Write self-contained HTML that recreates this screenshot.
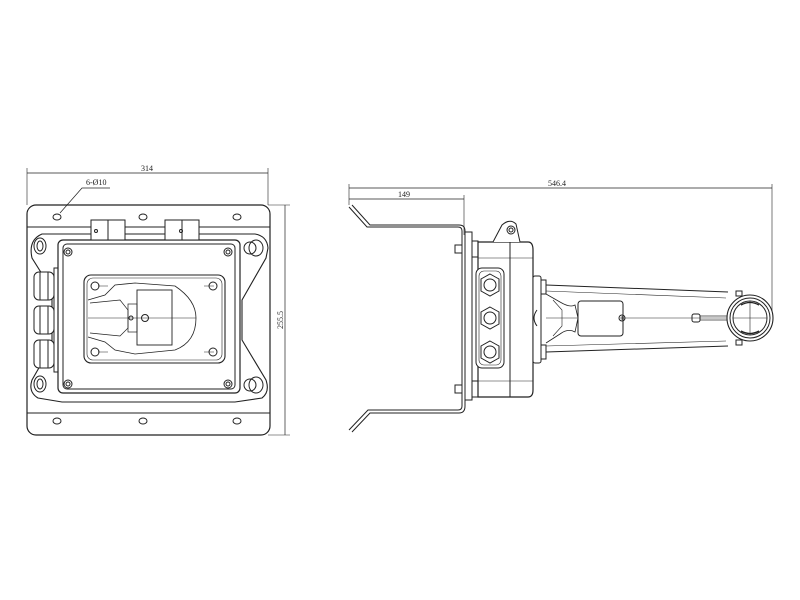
<!DOCTYPE html>
<html><head><meta charset="utf-8"><style>html,body{margin:0;padding:0;background:#fff}svg{display:block}text{font-family:"Liberation Serif",serif;fill:#222}</style></head><body>
<svg width="800" height="600" viewBox="0 0 800 600" xmlns="http://www.w3.org/2000/svg" fill="none" stroke="#222" stroke-width="1">
<!-- LEFT VIEW -->
<g>
<!-- dims -->
<line x1="27" y1="173" x2="268" y2="173" stroke-width="0.7"/>
<line x1="27" y1="168" x2="27" y2="205" stroke-width="0.6"/>
<line x1="268" y1="168" x2="268" y2="205" stroke-width="0.6"/>
<text x="147" y="171" font-size="8" stroke="none" text-anchor="middle">314</text>
<line x1="285" y1="205" x2="285" y2="435" stroke-width="0.7"/>
<line x1="268" y1="205" x2="290" y2="205" stroke-width="0.6"/>
<line x1="268" y1="435" x2="290" y2="435" stroke-width="0.6"/>
<text transform="translate(283,320) rotate(-90)" font-size="8" stroke="none" text-anchor="middle">255.5</text>
<text x="86" y="185" font-size="8" stroke="none">6-Ø10</text>
<polyline points="60,213 82,188 110,188" stroke-width="0.7"/>
<!-- base plate -->
<rect x="27" y="205" width="243" height="230" rx="9" stroke-width="1.2"/>
<line x1="27" y1="227" x2="270" y2="227"/>
<line x1="27" y1="413" x2="270" y2="413"/>
<g stroke-width="1">
<ellipse cx="57" cy="217" rx="4" ry="3"/><ellipse cx="143" cy="217" rx="4" ry="3"/><ellipse cx="237" cy="217" rx="4" ry="3"/>
<ellipse cx="57" cy="421" rx="4" ry="3"/><ellipse cx="143" cy="421" rx="4" ry="3"/><ellipse cx="237" cy="421" rx="4" ry="3"/>
</g>
<!-- flange -->
<path d="M42,234 L95,234 L200,234 L255,234 Q267,236 268,248 L266,258 L242,300 L242,340 L266,380 Q270,392 262,398 L235,402 L62,402 L38,398 Q28,392 32,380 L52,345 L52,290 L32,258 Q28,240 42,234 Z" fill="#fff" stroke-width="1.1"/>
<ellipse cx="40" cy="246" rx="6" ry="8"/><ellipse cx="40" cy="246" rx="3" ry="5"/>
<ellipse cx="40" cy="384" rx="6" ry="8"/><ellipse cx="40" cy="384" rx="3" ry="5"/>
<ellipse cx="256" cy="248" rx="7" ry="8"/><circle cx="250" cy="248" r="6"/>
<ellipse cx="256" cy="385" rx="7" ry="8"/><circle cx="250" cy="385" r="6"/>
<!-- box -->
<rect x="58" y="240" width="182" height="153" rx="5" fill="#fff" stroke-width="1.2"/>
<rect x="63" y="244" width="172" height="145" rx="4"/>
<circle cx="68" cy="252" r="4"/><circle cx="68" cy="252" r="2"/>
<circle cx="228" cy="252" r="4"/><circle cx="228" cy="252" r="2"/>
<circle cx="68" cy="384" r="4"/><circle cx="68" cy="384" r="2"/>
<circle cx="228" cy="384" r="4"/><circle cx="228" cy="384" r="2"/>
<!-- window -->
<rect x="84" y="275" width="141" height="88" rx="7" stroke-width="1.1"/>
<rect x="87" y="278" width="135" height="82" rx="6" stroke-width="0.6"/>
<circle cx="95" cy="286" r="4"/><circle cx="213" cy="286" r="4"/><circle cx="95" cy="352" r="4"/><circle cx="213" cy="352" r="4"/>
<path d="M98,286 h10 M98,352 h10 M204,286 h10 M204,352 h10" stroke-width="0.6"/>
<path d="M88,300 L105,295 L115,285 L135,283 L175,286 Q196,300 196,318 Q196,342 175,350 L135,354 L115,350 L105,342 L88,337" stroke-width="0.8"/>
<rect x="137" y="290" width="35" height="55" stroke-width="0.9"/>
<line x1="88" y1="318" x2="196" y2="318" stroke-width="0.5"/>
<path d="M90,303 L120,300 L128,310 L128,328 L120,336 L90,333" stroke-width="0.7"/>
<rect x="128" y="304" width="9" height="28" stroke-width="0.7"/>
<circle cx="145" cy="318" r="3.5"/><circle cx="131" cy="318" r="2"/>
<!-- glands -->
<g stroke-width="1">
<rect x="34" y="272" width="20" height="28" rx="5" fill="#fff"/><line x1="40" y1="272" x2="40" y2="300"/><line x1="48" y1="272" x2="48" y2="300"/>
<rect x="34" y="306" width="20" height="28" rx="5" fill="#fff"/><line x1="40" y1="306" x2="40" y2="334"/><line x1="48" y1="306" x2="48" y2="334"/>
<rect x="34" y="340" width="20" height="28" rx="5" fill="#fff"/><line x1="40" y1="340" x2="40" y2="368"/><line x1="48" y1="340" x2="48" y2="368"/>
<rect x="54" y="268" width="4" height="104"/>
</g>
<!-- hinges -->
<g fill="#fff">
<rect x="91" y="220" width="17" height="20"/><rect x="108" y="220" width="17" height="20"/>
<rect x="165" y="220" width="17" height="20"/><rect x="182" y="220" width="17" height="20"/>
</g>
<circle cx="96" cy="231" r="1.5"/><circle cx="181" cy="231" r="1.5"/>
</g>
<!-- RIGHT VIEW -->
<g>
<line x1="349" y1="188" x2="772" y2="188" stroke-width="0.7"/>
<line x1="349" y1="184" x2="349" y2="205" stroke-width="0.6"/>
<line x1="772" y1="184" x2="772" y2="318" stroke-width="0.6"/>
<text x="557" y="186" font-size="8" stroke="none" text-anchor="middle">546.4</text>
<line x1="349" y1="199" x2="464" y2="199" stroke-width="0.7"/>
<line x1="464" y1="195" x2="464" y2="235" stroke-width="0.6"/>
<text x="404" y="197" font-size="8" stroke="none" text-anchor="middle">149</text>
<!-- bracket -->
<path d="M349,207 L367,227 L458,227 Q462,227 462,231 L462,406 Q462,410 458,410 L368,410 L349,430" stroke-width="1"/>
<path d="M352,205 L370,225 L459,225 Q465,225 465,231 L465,406 Q465,413 459,413 L370,413 L352,432" stroke-width="1"/>
<rect x="465" y="232" width="7" height="168" fill="#fff"/>
<rect x="455" y="245" width="7" height="8"/><rect x="455" y="385" width="7" height="8"/>
<rect x="472" y="241" width="6" height="16"/><rect x="472" y="381" width="6" height="16"/>
<!-- box -->
<path d="M478,242 L528,242 Q533,242 533,250 L533,390 Q533,397 528,397 L478,397 Z" fill="#fff" stroke-width="1.2"/>
<line x1="510" y1="242" x2="510" y2="397"/>
<line x1="478" y1="258" x2="533" y2="258" stroke-width="0.5"/>
<line x1="478" y1="381" x2="533" y2="381" stroke-width="0.5"/>
<path d="M493,242 L502,225 Q510,218 516,224 L520,242" fill="#fff"/>
<circle cx="511" cy="230" r="4"/><circle cx="511" cy="230" r="2"/>
<rect x="476" y="268" width="28" height="100" rx="6" fill="#fff"/>
<rect x="479" y="271" width="22" height="94" rx="5" stroke-width="0.6"/>
<g>
<polygon points="490,274 499,279 499,291 490,296 481,291 481,279"/><circle cx="490" cy="285" r="6"/>
<polygon points="490,307 499,312 499,324 490,329 481,324 481,312"/><circle cx="490" cy="318" r="6"/>
<polygon points="490,341 499,346 499,358 490,363 481,358 481,346"/><circle cx="490" cy="352" r="6"/>
</g>
<!-- arm -->
<rect x="533" y="276" width="8" height="87" rx="2" fill="#fff"/>
<rect x="541" y="280" width="5" height="14"/><rect x="541" y="345" width="5" height="14"/>
<path d="M537,310 Q531,318 537,326" />
<path d="M546,285 L728,292" /><path d="M546,291 L726,298" stroke-width="0.6"/>
<path d="M546,352 L728,346" /><path d="M546,346 L726,341" stroke-width="0.6"/>
<path d="M546,294 L560,302 Q570,308 575,305 L578,318 L575,332 Q568,328 560,334 L546,343" stroke-width="0.8"/>
<path d="M553,300 L562,310 L562,326 L553,336" stroke-width="0.6"/>
<line x1="546" y1="318" x2="735" y2="318" stroke-width="0.6"/>
<rect x="578" y="301" width="45" height="35" rx="3" fill="#fff"/>
<circle cx="622" cy="318" r="3"/><path d="M620,318 h4 M622,316 v4" stroke-width="0.6"/>
<rect x="692" y="314" width="8" height="8" rx="2"/>
<rect x="700" y="316" width="28" height="4" stroke-width="0.7"/>
<circle cx="750" cy="318" r="23" fill="#fff" stroke-width="1.1"/>
<circle cx="750" cy="318" r="20"/>
<circle cx="750" cy="318" r="17"/>
<path d="M741,305 Q750,300 759,305 M741,331 Q750,336 759,331" stroke-width="1.3"/>
<line x1="733" y1="318" x2="767" y2="318" stroke-width="0.6"/>
<line x1="750" y1="301" x2="750" y2="335" stroke-width="0.6"/>
<rect x="736" y="291" width="6" height="5"/><rect x="736" y="340" width="6" height="5"/>
</g>
</svg>
</body></html>
